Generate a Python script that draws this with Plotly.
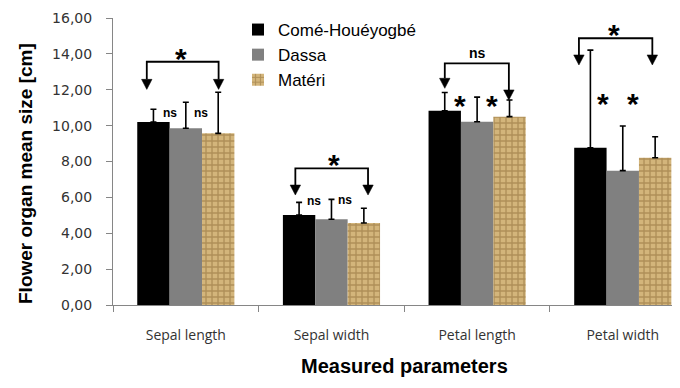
import plotly.graph_objects as go

# ---------------- data ----------------
categories = ["Sepal length", "Sepal width", "Petal length", "Petal width"]
series_names = ["Comé-Houéyogbé", "Dassa", "Matéri"]
come_mean = [10.20, 5.02, 10.83, 8.77]
come_err = [0.71, 0.70, 1.02, 5.44]
dassa_mean = [9.85, 4.78, 10.22, 7.49]
dassa_err = [1.45, 1.11, 1.37, 2.49]
materi_mean = [9.57, 4.57, 10.50, 8.21]
materi_err = [2.29, 0.82, 0.93, 1.17]

y_tick_values = [0, 2, 4, 6, 8, 10, 12, 14, 16]
y_tick_labels = ["0,00", "2,00", "4,00", "6,00", "8,00", "10,00", "12,00", "14,00", "16,00"]

# significance brackets: category index, left offset, right offset, top y, left tip y, right tip y, label
bracket_cat = [0, 1, 2, 3]
bracket_left = [-0.268, -0.248, -0.222, -0.301]
bracket_right = [0.225, 0.251, 0.218, 0.203]
bracket_top = [13.56, 7.62, 13.47, 14.87]
bracket_tip_left = [12.02, 6.13, 12.08, 13.38]
bracket_tip_right = [12.02, 6.13, 11.43, 13.38]
bracket_label = ["*", "*", "ns", "*"]
bracket_label_dx = [-0.031, 0.015, 0.003, -0.06]
bracket_label_y = [13.84, 7.93, 14.06, 15.18]

# pairwise labels between bars
pair_cat = [0, 0, 1, 1, 2, 2, 3, 3]
pair_dx = [-0.112, 0.101, -0.122, 0.096, -0.119, 0.099, -0.134, 0.072]
pair_y = [10.72, 10.72, 5.80, 5.85, 11.24, 11.24, 11.33, 11.33]
pair_label = ["ns", "ns", "ns", "ns", "*", "*", "*", "*"]

# ---------------- styles ----------------
# the page body has an 8px margin, so the figure is drawn 8px in and down
OFF = 8
W, H = 664, 372
ML, MR, MT, MB = 105, 0, 10, 75
PW, PH = W - ML - MR, H - MT - MB
axis_grey = "#868686"
star_size = 30
star_shift = -2
ns_size = 12


def paper_x(sx):
    return (sx - OFF - ML) / PW


def paper_y(sy):
    return (MT + PH - (sy - OFF)) / PH


fig = go.Figure()

fig.add_trace(go.Bar(
    name=series_names[0], x=categories, y=come_mean,
    marker=dict(color="#000000", line=dict(width=0)),
    error_y=dict(type="data", array=come_err, arrayminus=[0] * len(come_err),
                 symmetric=False, color="#000000", thickness=1.6, width=3),
))
fig.add_trace(go.Bar(
    name=series_names[1], x=categories, y=dassa_mean,
    marker=dict(color="#808080", line=dict(width=0)),
    error_y=dict(type="data", array=dassa_err, arrayminus=[0] * len(dassa_err),
                 symmetric=False, color="#000000", thickness=1.6, width=3),
))
fig.add_trace(go.Bar(
    name=series_names[2], x=categories, y=materi_mean,
    marker=dict(color="#d3b57b", line=dict(width=0),
                pattern=dict(shape="+", fgcolor="#8b6a35", size=6, solidity=0.4,
                             fillmode="overlay")),
    error_y=dict(type="data", array=materi_err, arrayminus=[0] * len(materi_err),
                 symmetric=False, color="#000000", thickness=1.6, width=3),
))

shapes = []
annotations = []
arrow_w = 0.036   # half width of arrowhead (category units)
arrow_h = 0.56    # arrowhead height (y units)
for i in range(len(bracket_cat)):
    c = bracket_cat[i]
    xl = c + bracket_left[i]
    xr = c + bracket_right[i]
    yt = bracket_top[i]
    tl = bracket_tip_left[i]
    tr = bracket_tip_right[i]
    shapes.append(dict(type="path", xref="x", yref="y",
                       path=f"M {xl},{tl + arrow_h} L {xl},{yt} L {xr},{yt} L {xr},{tr + arrow_h}",
                       line=dict(color="#000000", width=1.8)))
    for xx, tip in ((xl, tl), (xr, tr)):
        shapes.append(dict(type="path", xref="x", yref="y",
                           path=f"M {xx - arrow_w},{tip + arrow_h} L {xx + arrow_w},{tip + arrow_h} L {xx},{tip} Z",
                           fillcolor="#000000", line=dict(color="#000000", width=0.5)))
    lab = bracket_label[i]
    is_star = lab == "*"
    annotations.append(dict(x=c + bracket_label_dx[i], y=bracket_label_y[i], xref="x", yref="y",
                            text=f"<b>{lab}</b>", showarrow=False,
                            yshift=star_shift if is_star else 0,
                            font=dict(family="Liberation Sans", size=star_size if is_star else 14,
                                      color="#000000")))

for i in range(len(pair_cat)):
    lab = pair_label[i]
    is_star = lab == "*"
    annotations.append(dict(x=pair_cat[i] + pair_dx[i], y=pair_y[i], xref="x", yref="y",
                            text=f"<b>{lab}</b>", showarrow=False,
                            yshift=star_shift if is_star else 0,
                            font=dict(family="Liberation Sans", size=star_size if is_star else ns_size,
                                      color="#000000")))

# axis titles
annotations.append(dict(x=paper_x(25), y=paper_y(174),
                        xref="paper", yref="paper", text="<b>Flower organ mean size [cm]</b>",
                        textangle=-90, showarrow=False, xanchor="center", yanchor="middle",
                        font=dict(family="Liberation Sans", size=19, color="#000000")))
annotations.append(dict(x=paper_x(404.5), y=paper_y(366),
                        xref="paper", yref="paper", text="<b>Measured parameters</b>",
                        showarrow=False, xanchor="center", yanchor="middle",
                        font=dict(family="Liberation Sans", size=20, color="#000000")))

fig.update_layout(
    width=W, height=H,
    margin=dict(l=ML, r=MR, t=MT, b=MB, pad=0, autoexpand=False),
    paper_bgcolor="#ffffff", plot_bgcolor="#ffffff",
    barmode="group", bargap=0.333, bargroupgap=0,
    shapes=shapes, annotations=annotations,
    showlegend=True,
    legend=dict(xref="container", yref="container", x=(238 - OFF) / W, y=1 - (12 - OFF) / H,
                xanchor="left", yanchor="top",
                bgcolor="#ffffff", font=dict(family="Liberation Sans", size=17, color="#000000"),
                tracegroupgap=0, itemclick=False),
)
fig.update_xaxes(
    range=[-0.5, 3.338], showgrid=False, showline=True, linecolor=axis_grey, linewidth=1,
    ticks="outside", tickson="boundaries", ticklen=6, tickcolor=axis_grey,
    tickfont=dict(family="Open Sans", size=14, color="#333333"), ticklabelstandoff=17,
    zeroline=False, automargin=False,
)
fig.update_yaxes(
    range=[0, 16], showgrid=False, showline=True, linecolor=axis_grey, linewidth=1,
    ticks="outside", ticklen=6, tickcolor=axis_grey,
    tickvals=y_tick_values, ticktext=y_tick_labels,
    tickfont=dict(family="DejaVu Sans", size=14, color="#333333"), ticklabelstandoff=11,
    zeroline=False, automargin=False,
)

fig.write_html("out.html")
